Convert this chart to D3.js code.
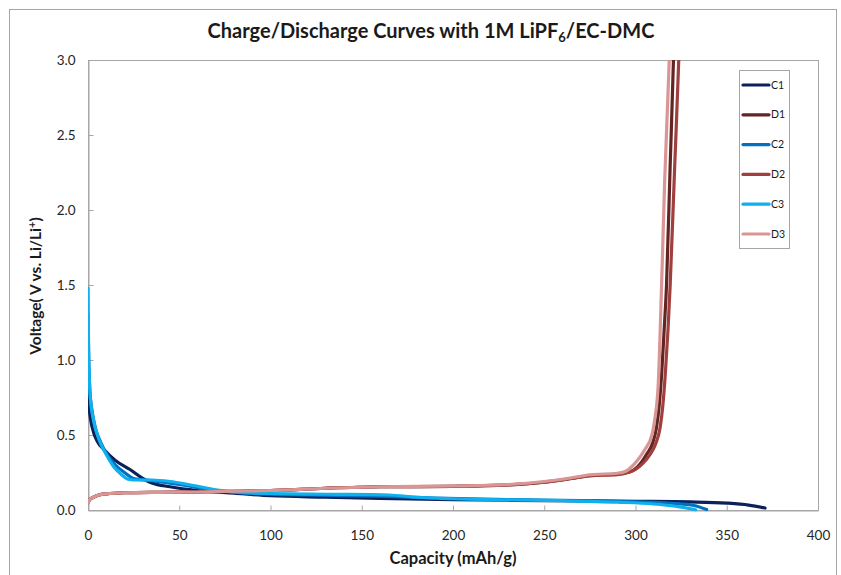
<!DOCTYPE html>
<html><head><meta charset="utf-8">
<script src="https://cdn.jsdelivr.net/npm/d3@7"></script>
<style>body{margin:0;background:#fff}svg{display:block}text{font-family:Lato,"Open Sans",sans-serif}</style>
</head><body><svg id="c" width="841" height="575"></svg>
<script>
const seriesNames = ["C1","D1","C2","D2","C3","D3"];
const seriesColors = ["#0c2059","#632523","#0070c0","#a0403e","#0fb0ee","#d99694"];
const xTicks = [0,50,100,150,200,250,300,350,400];
const yTicks = [0,0.5,1.0,1.5,2.0,2.5,3.0];

const C1 = [[0,0.80],[0.5,0.70],[1.5,0.60],[3,0.52],[5,0.46],[9,0.40],[15,0.33],[23,0.27],[30,0.21],[35,0.18],[45,0.155],[60,0.13],[80,0.112],[100,0.095],[130,0.086],[160,0.078],[200,0.069],[250,0.063],[300,0.058],[330,0.054],[350,0.046],[362,0.033],[371,0.013]];
const C2 = [[0,1.30],[0.4,1.0],[1,0.8],[2,0.68],[4,0.55],[7,0.45],[11,0.36],[15,0.3],[20,0.25],[25,0.21],[35,0.195],[50,0.17],[70,0.13],[90,0.11],[120,0.1],[160,0.092],[190,0.08],[230,0.07],[270,0.063],[300,0.055],[320,0.045],[332,0.03],[339,0.003]];
const C3 = [[0,1.48],[0.3,1.1],[0.8,0.85],[1.5,0.72],[3,0.6],[6,0.47],[10,0.37],[14,0.29],[18,0.24],[22,0.205],[25,0.2],[35,0.2],[45,0.19],[55,0.17],[70,0.135],[85,0.115],[100,0.11],[130,0.105],[165,0.1],[180,0.085],[200,0.075],[230,0.068],[260,0.062],[290,0.052],[310,0.04],[322,0.025],[333,0.002]];
const D1 = [[0,0.05],[1,0.07],[3,0.085],[6,0.1],[10,0.108],[20,0.115],[40,0.118],[60,0.12],[80,0.125],[100,0.13],[130,0.145],[160,0.155],[200,0.158],[230,0.167],[250,0.185],[265,0.21],[275,0.23],[290,0.24],[298,0.26],[302,0.3],[306,0.37],[309.5,0.45],[311.5,0.55],[313,0.7],[314.3,0.9],[315.7,1.2],[317,1.5],[319,2.3],[320.8,3.0],[321.2,3.2]];
const D2 = [[0,0.05],[1,0.07],[3,0.085],[6,0.1],[10,0.108],[20,0.115],[40,0.118],[60,0.12],[80,0.125],[100,0.13],[130,0.145],[160,0.155],[200,0.158],[230,0.167],[250,0.185],[265,0.21],[275,0.228],[290,0.235],[296,0.25],[300,0.27],[304,0.31],[308,0.37],[311,0.44],[313.5,0.55],[315,0.7],[316.3,0.9],[317.8,1.2],[319,1.5],[321.5,2.3],[323.7,3.0],[324.2,3.2]];
const D3 = [[0,0.05],[1,0.07],[3,0.085],[6,0.1],[10,0.108],[20,0.115],[40,0.118],[60,0.12],[80,0.125],[100,0.13],[130,0.145],[160,0.155],[200,0.16],[230,0.17],[250,0.19],[265,0.215],[275,0.235],[290,0.245],[295,0.26],[298,0.29],[301,0.33],[305,0.4],[309,0.5],[310.5,0.6],[312.5,0.85],[314.3,1.5],[316,2.2],[318.5,3.0],[319,3.2]];
const seriesData = [C1,D1,C2,D2,C3,D3];

const svg = d3.select("#c");
const L=88,R=818,T=60,B=510;
const x = d3.scaleLinear().domain([0,400]).range([L,R]);
const y = d3.scaleLinear().domain([0,3]).range([B,T]);

svg.append("rect").attr("x",9.5).attr("y",9.5).attr("width",827).attr("height",600)
  .attr("fill","none").attr("stroke","#a6a6a6");
svg.append("rect").attr("x",L+0.5).attr("y",T+0.5).attr("width",R-L).attr("height",B-T)
  .attr("fill","none").attr("stroke","#a6a6a6");

const xa = svg.append("g").attr("transform",`translate(0,${B+0.5})`)
  .call(d3.axisBottom(x).tickValues(xTicks).tickSize(-5).tickPadding(20).tickFormat(d3.format("d")));
const ya = svg.append("g").attr("transform",`translate(${L+0.5},0)`)
  .call(d3.axisLeft(y).tickValues(yTicks).tickSize(-5).tickPadding(13).tickFormat(d3.format(".1f")));
[xa,ya].forEach(g=>{
  g.select(".domain").attr("stroke","#a6a6a6");
  g.selectAll(".tick line").attr("stroke","#a6a6a6");
  g.selectAll(".tick text").attr("fill","#262626").style("font-size","13.5px").style("font-family","Lato");
});

svg.append("clipPath").attr("id","pc").append("rect").attr("x",L).attr("y",T).attr("width",R-L).attr("height",B-T+3);

const line = d3.line().x(d=>x(d[0])).y(d=>y(d[1])).curve(d3.curveMonotoneX);
const g = svg.append("g").attr("clip-path","url(#pc)");
seriesData.forEach((s,i)=>{
  g.append("path").attr("d",line(s)).attr("fill","none").attr("stroke",seriesColors[i])
    .attr("stroke-width",3.2).attr("stroke-linecap","round").attr("stroke-linejoin","round");
});

const t = svg.append("text").attr("x",431).attr("y",38).attr("text-anchor","middle")
  .style("font-size","20px").style("font-weight","bold").attr("fill","#1a1a1a");
t.append("tspan").text("Charge/Discharge Curves with 1M LiPF");
t.append("tspan").text("6").style("font-size","13px").attr("dy",4);
t.append("tspan").text("/EC-DMC").attr("dy",-4);

svg.append("text").attr("x",453).attr("y",564).attr("text-anchor","middle")
  .style("font-size","16.5px").style("font-weight","bold").attr("fill","#1a1a1a").text("Capacity (mAh/g)");

const yl = svg.append("text").attr("transform","translate(41,286) rotate(-90)").attr("text-anchor","middle")
  .style("font-size","15.5px").style("font-weight","bold").attr("fill","#1a1a1a");
yl.append("tspan").text("Voltage( V vs. Li/Li");
yl.append("tspan").text("+").style("font-size","11px").attr("dy",-5);
yl.append("tspan").text(")").attr("dy",5);

svg.append("rect").attr("x",739.5).attr("y",70.5).attr("width",50).attr("height",178)
  .attr("fill","#fff").attr("stroke","#a6a6a6");
seriesNames.forEach((n,i)=>{
  const yy = 85 + i*29.8;
  svg.append("line").attr("x1",743).attr("x2",769).attr("y1",yy).attr("y2",yy)
    .attr("stroke",seriesColors[i]).attr("stroke-width",3.2).attr("stroke-linecap","round");
  svg.append("text").attr("x",771).attr("y",yy+3.5).style("font-size","10.5px").attr("fill","#1a1a1a").text(n);
});
</script></body></html>
